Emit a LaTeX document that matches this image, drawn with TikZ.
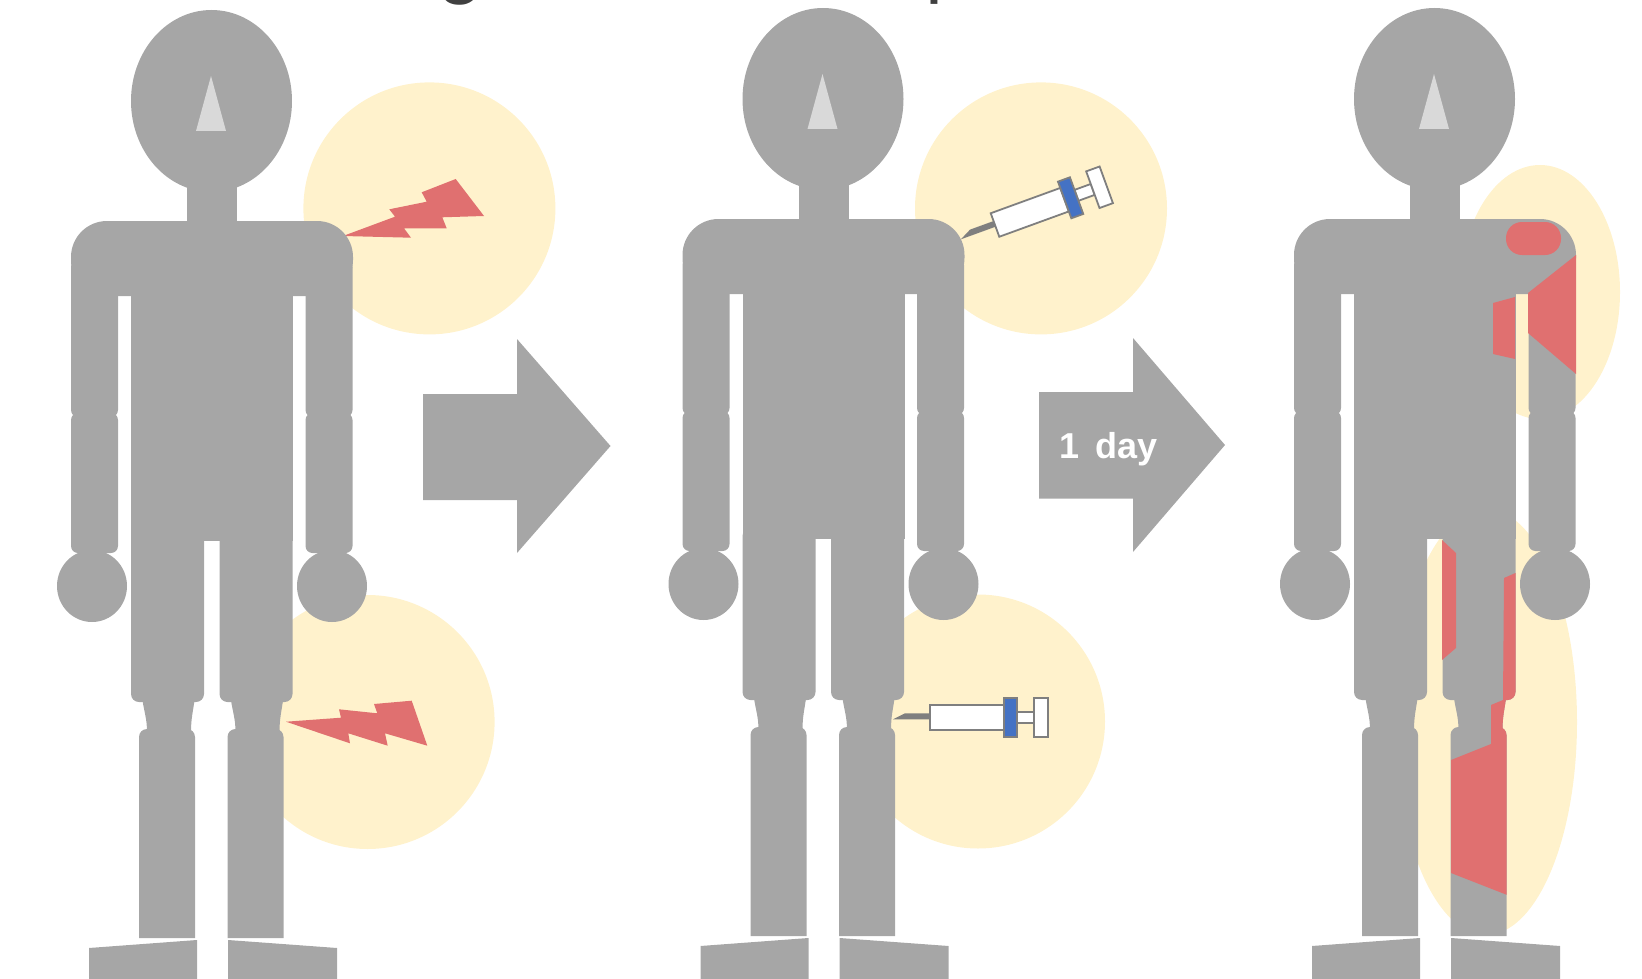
\documentclass[tikz,border=0pt]{standalone}
\usepackage{fontspec}
\setmainfont{Liberation Sans}
\newfontfamily\titlefont{Carlito}
\usepackage{xcolor}
\usepackage{tikz}

\definecolor{body}{HTML}{A6A6A6}
\definecolor{nose}{HTML}{D9D9D9}
\definecolor{glow}{HTML}{FFF2CC}
\definecolor{hurt}{HTML}{E07070}
\definecolor{band}{HTML}{4472C4}
\definecolor{rim}{HTML}{7F7F7F}
\definecolor{ink}{HTML}{404040}

\begin{document}
\begin{tikzpicture}[x=1pt,y=-1pt,
    leg/.pic={
      \path[pic actions,rounded corners=8] (131,530) rectangle (204,702);
      \path[pic actions] (142,697) .. controls (144,712) and (147,718) .. (147,732)
        -- (191,732) .. controls (191,718) and (193,712) .. (195,697) -- cycle;
      \path[pic actions,rounded corners=8] (139,938) |- (195,729) -- (195,938);
    },
    man/.pic={
      \fill[body] (211.5,101) ellipse [x radius=80.5, y radius=91];
      \fill[nose] (211,76) -- (196,131) -- (226,131) -- cycle;
      \fill[body] (187,175) rectangle (237,230);
      \fill[body,rounded corners=36] (71,296) |- (353,221) -- (353,296) -- cycle;
      \fill[body] (131,260) rectangle (293,541);
      \foreach \dx in {0,234.5} {
        \fill[body,rounded corners=7] (71+\dx,260) rectangle (118+\dx,417);
        \fill[body,rounded corners=7] (71+\dx,413) rectangle (118+\dx,553);
      }
      \fill[body] (92,586) ellipse [x radius=35, y radius=36];
      \fill[body] (332,586) ellipse [x radius=35, y radius=36];
      \pic[fill=body] at (0,0) {leg};
      \pic[fill=body] at (88.5,0) {leg};
      \fill[body] (89,948) -- (197,940) -- (197,985) -- (89,985) -- cycle;
      \fill[body] (228,940) -- (337,948) -- (337,985) -- (228,985) -- cycle;
    },
    syringe/.pic={
      \fill[rim] (-37,1.8) -- (-25,-4.2) -- (0,-4.2) -- (0,1.8) -- cycle;
      \draw[rim,fill=white,line width=1.8] (0,-12.5) rectangle (74,12.5);
      \draw[rim,fill=white,line width=1.8] (86.7,-5.8) rectangle (104,5.8);
      \draw[rim,fill=white,line width=1.8] (104,-19.2) rectangle (118.3,19.8);
      \draw[rim,fill=band,line width=1.8] (74,-19.2) rectangle (86.7,19.8);
    }]
  \clip (0,0) rectangle (1642,979);

  % heading, cut off at the top edge
  \node[ink,font=\titlefont\fontsize{80}{96}\selectfont,anchor=base] (headg) at (460,-8) {g};
  \node[ink,font=\titlefont\fontsize{80}{96}\selectfont,anchor=base west] (headp) at (922,-8) {p};

  % sore spots
  \fill[glow] (429.4,208.4) circle [radius=126];
  \fill[glow] (367.6,722) circle [radius=127];
  \fill[glow] (1041,208.4) circle [radius=126];
  \fill[glow] (978,721.5) circle [radius=127];
  \fill[glow] (1540,292) ellipse [x radius=80, y radius=127];
  \fill[glow] (1486,722) ellipse [x radius=91, y radius=213];

  \fill[hurt] (343,236) -- (395,216.7) -- (389.3,209.3) -- (426.7,201.7) -- (421.7,192.3)
    -- (455.7,179) -- (484,216) -- (442.3,217.3) -- (446.7,228.3) -- (404,228.3) -- (411,237.7) -- cycle;
  \fill[hurt] (286,721.7) -- (341,717.7) -- (339,709.3) -- (377.3,713.3) -- (374,704)
    -- (411.7,700.7) -- (427.3,745.7) -- (385,733.3) -- (387.7,745.7) -- (348.3,733.3) -- (350,743.3) -- cycle;

  \pic[rotate=20] at (995,225) {syringe};
  \pic at (930,717.5) {syringe};

  % the three figures
  \pic at (0,0) {man};
  \pic at (611.5,-2) {man};
  \pic at (1223,-2) {man};

  % arrows
  \fill[body] (423,394) -- (517,394) -- (517,339) -- (610.5,446) -- (517,553) -- (517,500) -- (423,500) -- cycle;
  \fill[body] (1039,392) -- (1133,392) -- (1133,338) -- (1225,445) -- (1133,552) -- (1133,498.5) -- (1039,498.5) -- cycle;
  \node[white,font=\bfseries\fontsize{36}{40}\selectfont,anchor=base west,inner sep=0pt] (delay) at (1059,458) {1\hspace{6pt} day};

  % inflamed areas
  \fill[hurt,rounded corners=16] (1506,222) rectangle (1561,255);
  \fill[hurt] (1576,255) -- (1528,293) -- (1528,333) -- (1576,374) -- cycle;
  \fill[hurt] (1493,303) -- (1515,297) -- (1515,359) -- (1493,354) -- cycle;
  \fill[hurt] (1442,540) -- (1456,553) -- (1456,648) -- (1442,660) -- cycle;
  \begin{scope}
    \clip (1504,578) -- (1520,571) -- (1520,900) -- (1451,873) -- (1451,760)
      -- (1491,744) -- (1491,705) -- (1503,700) -- cycle;
    \pic[fill=hurt] at (1311.5,-2) {leg};
  \end{scope}
\end{tikzpicture}
\end{document}
